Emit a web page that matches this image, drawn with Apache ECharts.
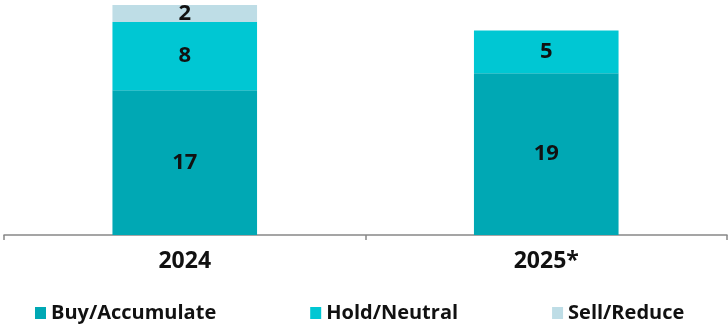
<!DOCTYPE html>
<html>
<head>
<meta charset="utf-8">
<script src="https://cdn.jsdelivr.net/npm/echarts@6/dist/echarts.min.js"></script>
<style>
  html, body { margin: 0; padding: 0; background: #fff; }
  #chart_box { width: 728px; height: 324px; }
</style>
</head>
<body>
<div id="chart_box"></div>
<script>
const categories = ["2024", "2025*"];
const buyValues = [17, 19];
const holdValues = [8, 5];
const sellValues = [2, null];

const labelStyle = {
  show: true,
  position: "inside",
  color: "#111",
  fontSize: 22,
  fontWeight: "bold",
  fontFamily: "Open Sans",
};

const myChart = echarts.init(document.getElementById("chart_box"));
myChart.setOption({
  animation: false,
  textStyle: { fontFamily: "Open Sans" },
  grid: { left: 4, right: 1, top: 5, bottom: 89 },
  legend: {
    left: 30,
    top: 298,
    itemWidth: 11,
    itemHeight: 12,
    itemGap: 94,
    icon: "rect",
    textStyle: { fontSize: 20, fontWeight: "bold", color: "#111", fontFamily: "Open Sans" },
    data: ["Buy/Accumulate", "Hold/Neutral", "Sell/Reduce"],
  },
  xAxis: {
    type: "category",
    data: categories,
    axisLine: { lineStyle: { color: "#888", width: 1.5 } },
    axisTick: { show: true, length: 5, lineStyle: { color: "#888", width: 1.5 } },
    axisLabel: { color: "#111", fontSize: 23, fontWeight: "bold", margin: 15, fontFamily: "Open Sans" },
  },
  yAxis: {
    type: "value",
    min: 0,
    max: 27,
    show: false,
    splitLine: { show: false },
  },
  series: [
    {
      name: "Buy/Accumulate",
      type: "bar",
      stack: "total",
      barWidth: "40%",
      itemStyle: { color: "#00A8B4" },
      label: labelStyle,
      data: buyValues,
    },
    {
      name: "Hold/Neutral",
      type: "bar",
      stack: "total",
      itemStyle: { color: "#00C7D3" },
      label: labelStyle,
      data: holdValues,
    },
    {
      name: "Sell/Reduce",
      type: "bar",
      stack: "total",
      itemStyle: { color: "#BEDDE6" },
      label: labelStyle,
      data: sellValues,
    },
  ],
});
</script>
</body>
</html>
